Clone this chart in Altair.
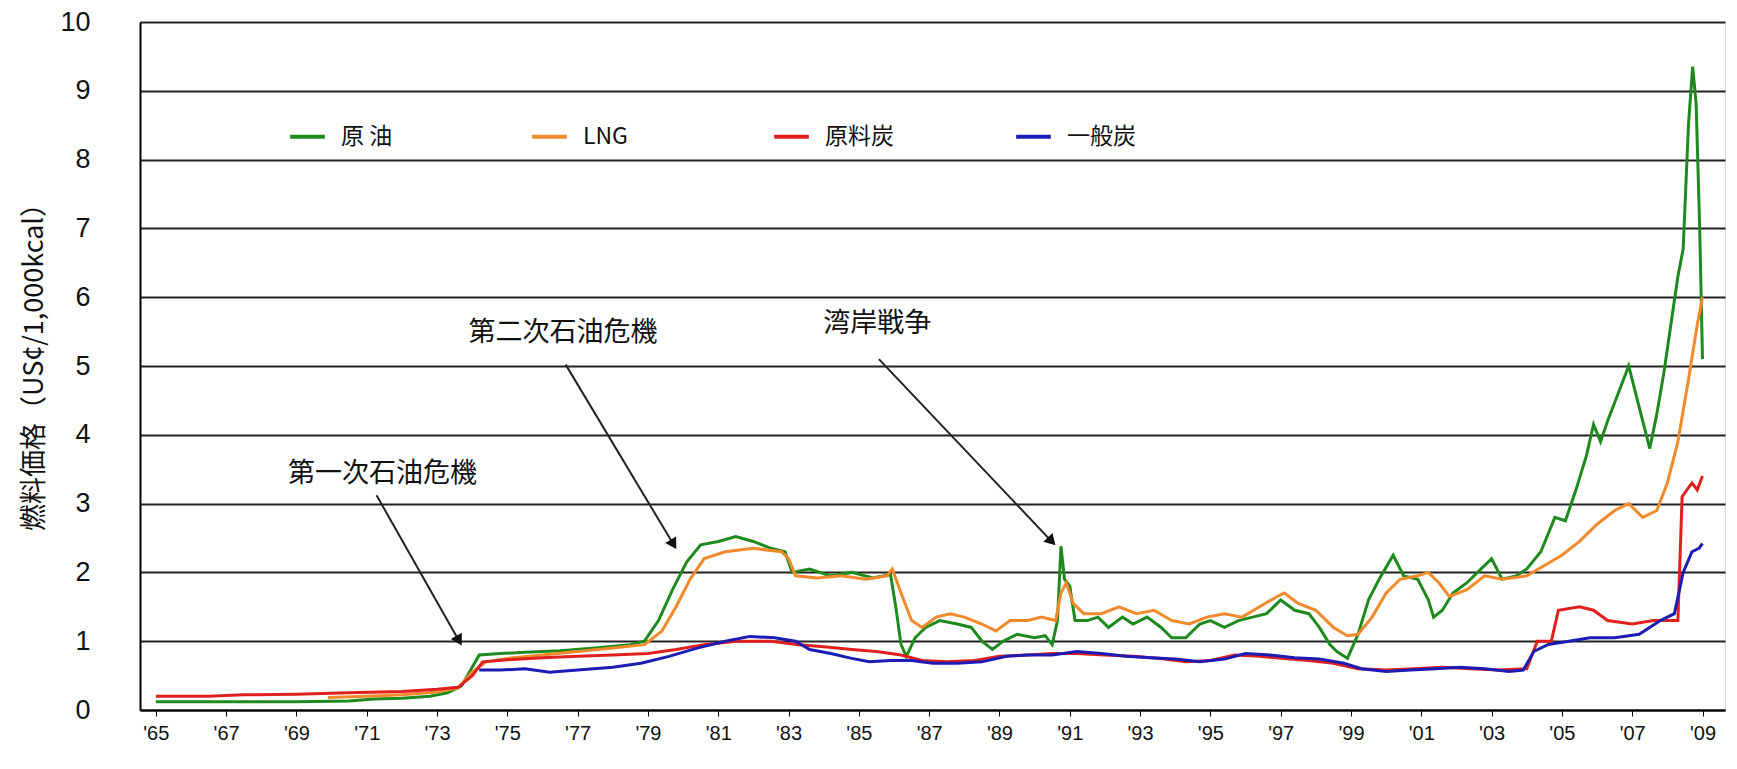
import math
import altair as alt
import pandas as pd

FONT = "Noto Sans CJK JP"
NUMFONT = "Liberation Sans"

series_names = ["原油", "LNG", "原料炭", "一般炭"]
series_colors = ["#1e8a1e", "#f08a2c", "#e0201c", "#1c1cb4"]

crude_years = [1965.0, 1967.0, 1969.0, 1970.5, 1971.2, 1972.0, 1972.8, 1973.3, 1973.7, 1974.0, 1974.2,
               1974.8, 1975.5, 1976.5, 1977.5, 1978.5, 1978.9, 1979.3, 1979.7, 1980.1, 1980.5, 1981.0,
               1981.5, 1982.0, 1982.5, 1982.9, 1983.1, 1983.6, 1984.2, 1984.8, 1985.4, 1985.9, 1986.05,
               1986.2, 1986.35, 1986.6, 1986.9, 1987.3, 1987.8, 1988.2, 1988.5, 1988.8, 1989.1, 1989.5,
               1990.0, 1990.3, 1990.5, 1990.65, 1990.75, 1990.85, 1991.0, 1991.15, 1991.5, 1991.8, 1992.1,
               1992.5, 1992.8, 1993.2, 1993.6, 1993.9, 1994.3, 1994.7, 1995.0, 1995.4, 1995.8, 1996.2,
               1996.6, 1997.0, 1997.4, 1997.8, 1998.1, 1998.4, 1998.6, 1998.9, 1999.2, 1999.5, 1999.8,
               2000.2, 2000.5, 2000.9, 2001.2, 2001.35, 2001.6, 2001.9, 2002.3, 2002.6, 2003.0,
               2003.3, 2003.7, 2004.0, 2004.4, 2004.8, 2005.1, 2005.4, 2005.7, 2005.9, 2006.1, 2006.3,
               2006.6, 2006.9, 2007.2, 2007.5, 2007.7, 2007.9, 2008.1, 2008.3, 2008.45, 2008.6, 2008.72,
               2008.82, 2008.92, 2009.0]
crude_values = [0.12, 0.12, 0.12, 0.13, 0.16, 0.17, 0.2, 0.25, 0.35, 0.62, 0.8,
                0.82, 0.84, 0.86, 0.9, 0.95, 1.0, 1.3, 1.75, 2.15, 2.4, 2.45,
                2.52, 2.45, 2.35, 2.3, 2.0, 2.05, 1.95, 2.0, 1.92, 1.97, 1.5,
                0.95, 0.78, 1.05, 1.2, 1.3, 1.25, 1.2, 1.0, 0.88, 1.0, 1.1,
                1.05, 1.08, 0.95, 1.3, 2.38, 1.9, 1.8, 1.3, 1.3, 1.35, 1.2,
                1.35, 1.25, 1.35, 1.2, 1.05, 1.05, 1.25, 1.3, 1.2, 1.3, 1.35,
                1.4, 1.6, 1.45, 1.4, 1.2, 0.95, 0.85, 0.75, 1.1, 1.6, 1.9,
                2.25, 1.95, 1.9, 1.6, 1.35, 1.45, 1.7, 1.85, 2.0, 2.2,
                1.9, 1.95, 2.05, 2.3, 2.8, 2.75, 3.2, 3.7, 4.15, 3.9, 4.2,
                4.6, 5.0, 4.4, 3.8, 4.3, 4.9, 5.6, 6.3, 6.7, 8.5, 9.35,
                8.8, 7.0, 5.1]

lng_years = [1969.9, 1971.0, 1972.0, 1973.0, 1973.6, 1974.0, 1974.4, 1975.0, 1976.0, 1977.0, 1978.0,
             1978.9, 1979.4, 1979.8, 1980.2, 1980.6, 1981.2, 1982.0, 1982.8, 1983.0, 1983.2, 1983.8,
             1984.5, 1985.2, 1985.8, 1985.95, 1986.2, 1986.5, 1986.8, 1987.2, 1987.6, 1988.0, 1988.5,
             1988.9, 1989.3, 1989.8, 1990.2, 1990.6, 1990.75, 1990.9, 1991.1, 1991.4, 1991.9, 1992.4,
             1992.9, 1993.4, 1993.9, 1994.4, 1994.9, 1995.4, 1995.9, 1996.4, 1996.9, 1997.1, 1997.5,
             1998.0, 1998.5, 1998.9, 1999.2, 1999.6, 2000.0, 2000.4, 2000.9, 2001.2, 2001.5, 2001.8,
             2002.3, 2002.8, 2003.3, 2004.0, 2004.5, 2005.0, 2005.5, 2006.0, 2006.5, 2006.9, 2007.3,
             2007.7, 2008.0, 2008.3, 2008.6, 2008.85, 2009.0]
lng_values = [0.18, 0.2, 0.22, 0.26, 0.32, 0.55, 0.7, 0.75, 0.8, 0.85, 0.9,
              0.95, 1.15, 1.5, 1.9, 2.2, 2.3, 2.35, 2.3, 2.2, 1.95, 1.92,
              1.95, 1.9, 1.95, 2.05, 1.7, 1.3, 1.2, 1.35, 1.4, 1.35, 1.25,
              1.15, 1.3, 1.3, 1.35, 1.3, 1.7, 1.85, 1.55, 1.4, 1.4, 1.5,
              1.4, 1.45, 1.3, 1.25, 1.35, 1.4, 1.35, 1.5, 1.65, 1.7, 1.55,
              1.45, 1.2, 1.08, 1.1, 1.35, 1.7, 1.9, 1.95, 2.0, 1.85, 1.65,
              1.75, 1.95, 1.9, 1.95, 2.1, 2.25, 2.45, 2.7, 2.9, 3.0, 2.8,
              2.9, 3.3, 3.9, 4.8, 5.6, 6.0]

coking_years = [1965.0, 1966.5, 1967.5, 1969.0, 1970.5, 1972.0, 1973.0, 1973.6, 1974.0, 1974.3, 1975.0,
                1976.0, 1977.0, 1978.0, 1979.0, 1979.8, 1980.6, 1981.5, 1982.5, 1983.3, 1984.0, 1984.8,
                1985.5, 1986.2, 1986.8, 1987.5, 1988.3, 1989.0, 1989.8, 1990.5, 1991.2, 1992.0, 1992.8,
                1993.6, 1994.3, 1995.0, 1995.7, 1996.4, 1997.1, 1997.8, 1998.5, 1999.2, 2000.0, 2000.8,
                2001.6, 2002.4, 2003.2, 2004.0, 2004.3, 2004.7, 2004.9, 2005.5, 2005.9, 2006.3, 2007.0,
                2007.6, 2008.3, 2008.42, 2008.7, 2008.85, 2009.0]
coking_values = [0.2, 0.2, 0.22, 0.23, 0.25, 0.27, 0.3, 0.33, 0.5, 0.7, 0.73,
                 0.76, 0.78, 0.8, 0.82, 0.88, 0.95, 1.0, 1.0, 0.95, 0.92, 0.88,
                 0.85, 0.8, 0.72, 0.7, 0.72, 0.78, 0.8, 0.82, 0.82, 0.8, 0.78,
                 0.75, 0.7, 0.72, 0.8, 0.78, 0.75, 0.72, 0.68, 0.6, 0.58, 0.6,
                 0.62, 0.6, 0.58, 0.6, 1.0, 1.0, 1.45, 1.5, 1.45, 1.3, 1.25,
                 1.3, 1.3, 3.1, 3.3, 3.2, 3.4]

steam_years = [1974.2, 1974.8, 1975.5, 1976.2, 1977.0, 1978.0, 1978.8, 1979.6, 1980.4, 1981.2, 1981.9,
               1982.6, 1983.2, 1983.6, 1984.2, 1984.8, 1985.3, 1985.9, 1986.5, 1987.1, 1987.8, 1988.5,
               1989.2, 1989.8, 1990.5, 1991.2, 1991.9, 1992.6, 1993.3, 1994.0, 1994.7, 1995.4, 1996.0,
               1996.7, 1997.4, 1998.1, 1998.8, 1999.3, 2000.0, 2000.7, 2001.4, 2002.1, 2002.8, 2003.5,
               2003.9, 2004.2, 2004.6, 2005.2, 2005.8, 2006.5, 2007.2, 2007.8, 2008.2, 2008.45, 2008.7,
               2008.9, 2009.0]
steam_values = [0.58, 0.58, 0.6, 0.55, 0.58, 0.62, 0.68, 0.78, 0.9, 1.0, 1.07,
                1.05, 1.0, 0.88, 0.82, 0.75, 0.7, 0.72, 0.72, 0.68, 0.68, 0.7,
                0.78, 0.8, 0.8, 0.85, 0.82, 0.78, 0.76, 0.74, 0.7, 0.74, 0.82,
                0.8, 0.76, 0.74, 0.68, 0.6, 0.56, 0.58, 0.6, 0.62, 0.6, 0.56,
                0.58, 0.85, 0.95, 1.0, 1.05, 1.05, 1.1, 1.3, 1.4, 2.0, 2.3,
                2.35, 2.42]

tick_years = list(range(1965, 2010, 2))
y_ticks = list(range(0, 11))

note_labels = ["第一次石油危機", "第二次石油危機", "湾岸戦争"]
note_x = [1971.45, 1976.58, 1985.52]
note_y = [3.43, 5.48, 5.61]
arrow_x1 = [1971.28, 1976.66, 1985.57]
arrow_y1 = [3.12, 5.02, 5.10]
arrow_x2 = [1973.60, 1979.70, 1990.45]
arrow_y2 = [1.03, 2.43, 2.47]

X_DOMAIN = [1964.55, 2009.64]
W, H = 1585, 688

rows = []
for name, ys, vs in zip(series_names,
                        [crude_years, lng_years, coking_years, steam_years],
                        [crude_values, lng_values, coking_values, steam_values]):
    for yr, v in zip(ys, vs):
        rows.append({"series": name, "year": yr, "value": v})
df = pd.DataFrame(rows)

px_per_year = W / (X_DOMAIN[1] - X_DOMAIN[0])
px_per_unit = H / 10.0
angles = []
for a, b, c, d in zip(arrow_x1, arrow_y1, arrow_x2, arrow_y2):
    dx = (c - a) * px_per_year
    dy = -(d - b) * px_per_unit
    ang = math.degrees(math.atan2(dx, -dy)) % 360
    angles.append(ang)

notes = pd.DataFrame({"label": note_labels, "x": note_x, "y": note_y})
arrows = pd.DataFrame({"x": arrow_x1, "y": arrow_y1, "x2": arrow_x2, "y2": arrow_y2, "angle": angles})

xscale = alt.Scale(domain=X_DOMAIN, nice=False, zero=False)
yscale = alt.Scale(domain=[0, 10], nice=False)

xaxis = alt.Axis(values=tick_years, format="d", labelExpr="\"'\" + slice(datum.label, 2)",
                 title=None, grid=False, labelFontSize=20, labelColor="#111", labelPadding=7,
                 domainColor="#000", domainWidth=2, tickColor="#000", tickSize=6, labelFont=NUMFONT)
yaxis = alt.Axis(values=y_ticks, format="d", title="燃料価格（US¢/1,000kcal）", grid=True,
                 gridColor="#222", gridWidth=2, domainColor="#000", domainWidth=2, ticks=False,
                 labelFontSize=27, labelColor="#111", labelPadding=50, labelFont=NUMFONT,
                 titleFontSize=27, titleFontWeight="normal", titleColor="#111", titleX=-106,
                 titleY=338, titleAngle=-90, titleBaseline="middle", titleAlign="center",
                 titleFont=FONT)

lines = alt.Chart(df).mark_line(strokeWidth=3, clip=True).encode(
    x=alt.X("year:Q", scale=xscale, axis=xaxis),
    y=alt.Y("value:Q", scale=yscale, axis=yaxis),
    color=alt.Color("series:N", scale=alt.Scale(domain=series_names, range=series_colors),
                    legend=alt.Legend(title=None, orient="none", legendX=148, legendY=95,
                                      direction="horizontal", columns=4, gridAlign="all",
                                      columnPadding=114, symbolType="stroke", symbolSize=1200,
                                      symbolStrokeWidth=4, labelFontSize=23, labelFont=FONT,
                                      labelColor="#111", labelOffset=14,
                                      labelExpr="datum.label == '原油' ? '原 油' : datum.label")),
    detail="series:N",
)

rules = alt.Chart(arrows).mark_rule(color="#222", strokeWidth=2).encode(
    x=alt.X("x:Q", scale=xscale), y=alt.Y("y:Q", scale=yscale),
    x2="x2:Q", y2="y2:Q",
)

heads = alt.Chart(arrows).mark_point(shape="triangle", filled=True, color="#111", size=160,
                                     opacity=1).encode(
    x=alt.X("x2:Q", scale=xscale), y=alt.Y("y2:Q", scale=yscale),
    angle=alt.Angle("angle:Q", scale=None),
)

texts = alt.Chart(notes).mark_text(fontSize=27, font=FONT, color="#111", align="center",
                                   baseline="middle").encode(
    x=alt.X("x:Q", scale=xscale), y=alt.Y("y:Q", scale=yscale), text="label:N",
)

chart = alt.layer(lines, rules, heads, texts).properties(
    width=W, height=H,
    padding={"left": 132, "top": 14, "right": 4, "bottom": 40},
    autosize=alt.AutoSizeParams(type="none"),
).configure_view(stroke=None).configure(font=FONT, background="white")

chart.save("out.html", embed_options={"renderer": "svg", "actions": False})
